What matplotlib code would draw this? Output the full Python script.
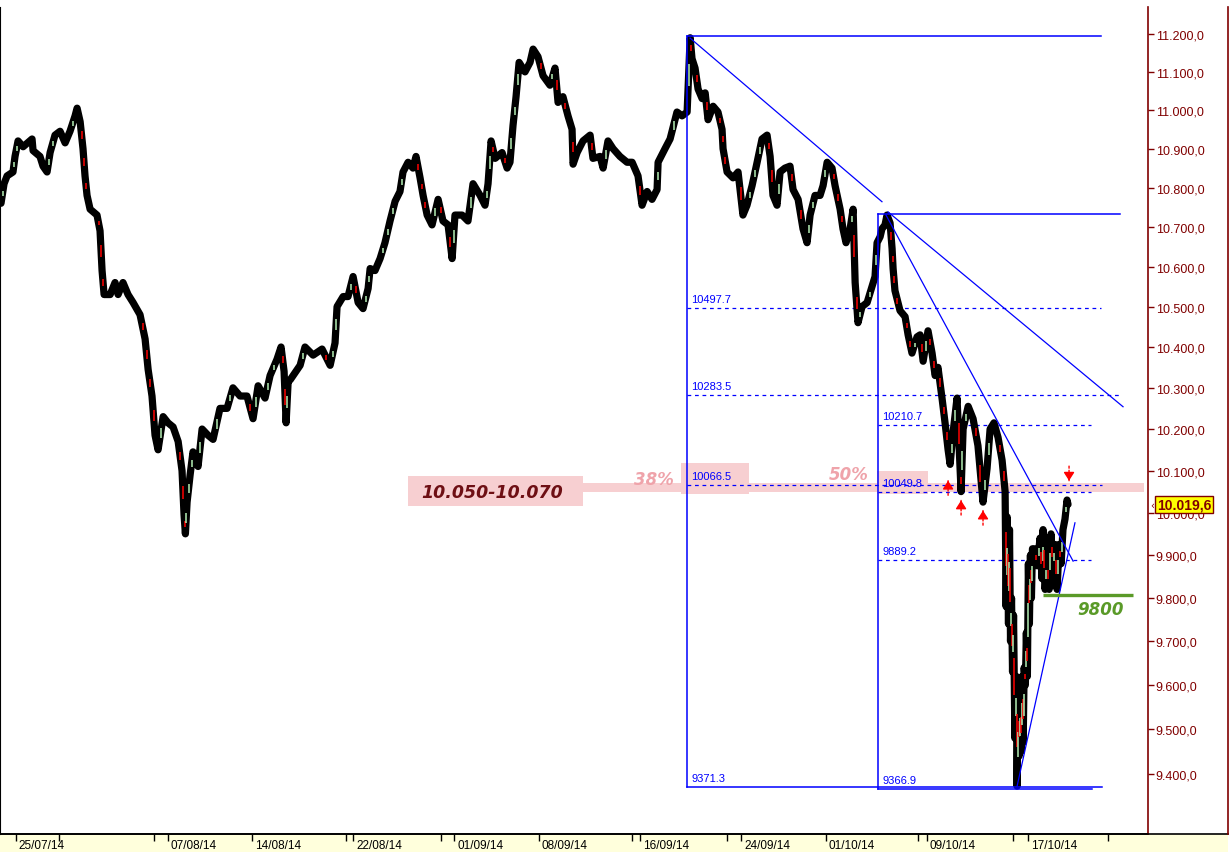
import numpy as np
import matplotlib
matplotlib.use("Agg")
import matplotlib.pyplot as plt
from matplotlib.ticker import FixedLocator, NullLocator, FuncFormatter
from matplotlib.patches import Rectangle
from matplotlib.lines import Line2D

# ---------------- data (x = trading-day index, 0 = 25/07/14) ----------------
days = [-0.88, -0.70, -0.52, -0.17, -0.05, 0.13, 0.43, 0.96, 1.02, 1.43, 1.61, 1.85, 2.03, 2.32,
        2.62, 2.92, 3.21, 3.51, 3.63, 3.81, 3.98, 4.10, 4.22, 4.40, 4.81, 4.99, 5.11, 5.23, 5.59,
        5.88, 6.06, 6.35, 6.65, 6.95, 7.36, 7.66, 7.84, 8.07, 8.25, 8.43, 8.73, 9.02, 9.32, 9.62,
        9.85, 9.97, 10.05, 10.15, 10.33, 10.50, 10.80, 11.04, 11.39, 11.69, 12.10, 12.52, 12.87, 13.29,
        13.70, 14.06, 14.36, 14.77, 15.07, 15.48, 15.72, 15.90, 16.02, 16.14, 16.27, 16.85, 17.14,
        17.62, 18.15, 18.63, 18.92, 19.04, 19.40, 19.69, 19.99, 20.29, 20.58, 20.88, 21.00, 21.29,
        21.59, 21.88, 22.18, 22.48, 22.77, 22.95, 23.25, 23.54, 23.72, 23.96, 24.14, 24.38, 24.67,
        25.03, 25.32, 25.62, 25.86, 26.03, 26.45, 26.80, 27.10, 27.52, 27.81, 27.99, 28.17, 28.41,
        28.82, 29.12, 29.29, 29.47, 29.65, 29.83, 30.18, 30.48, 30.66, 30.95, 31.25, 31.66, 31.96,
        32.14, 32.43, 32.73, 32.97, 33.03, 33.27, 33.62, 34.04, 34.21, 34.63, 34.81, 35.10, 35.40,
        35.81, 36.23, 36.53, 36.88, 37.12, 37.42, 37.71, 38.01, 38.07, 38.48, 38.78, 39.19, 39.49,
        39.79, 39.97, 40.08, 40.26, 40.44, 40.68, 40.86, 41.03, 41.33, 41.62, 41.86, 41.92, 42.16,
        42.51, 42.81, 43.10, 43.34, 43.64, 43.94, 44.23, 44.53, 44.71, 44.88, 45.12, 45.30, 45.59,
        45.89, 46.07, 46.37, 46.66, 46.90, 47.08, 47.37, 47.67, 47.85, 48.09, 48.38, 48.56, 48.86,
        49.03, 49.21, 49.45, 49.63, 49.75, 49.92, 50.16, 50.46, 50.75, 50.93, 51.05, 51.23, 51.34,
        51.52, 51.64, 51.82, 51.94, 52.00, 52.11, 52.41, 52.71, 52.89, 53.12, 53.42, 53.60, 53.78,
        54.07, 54.31, 54.49, 54.66, 54.90, 55.08, 55.26, 55.38, 55.55, 55.79, 55.97, 56.03, 56.15,
        56.45, 56.74, 57.03, 57.33, 57.57, 57.75, 57.98, 58.22, 58.46, 58.64,
        58.70, 58.76, 58.84, 58.90, 58.96, 59.02, 59.08, 59.14, 59.22, 59.30, 59.35, 59.41, 59.47,
        59.53, 59.59, 59.65, 59.71, 59.77, 59.84, 59.90, 59.96, 60.02, 60.08, 60.14, 60.20, 60.26,
        60.36, 60.54, 60.71, 60.83, 60.89, 61.01, 61.13, 61.25, 61.36, 61.48, 61.60, 61.72,
        61.84, 61.96, 62.07, 62.19, 62.31, 62.37]
prices = [10760, 10810, 10830, 10840, 10880, 10920, 10905, 10925, 10895, 10880, 10855, 10840, 10890, 10935,
          10945, 10915, 10945, 10985, 11005, 10970, 10900, 10830, 10780, 10745, 10730, 10690, 10590, 10530, 10530,
          10560, 10530, 10560, 10530, 10510, 10480, 10420, 10345, 10280, 10185, 10150, 10230, 10215, 10205, 10170,
          10100, 9995, 9950, 10025, 10090, 10145, 10110, 10200, 10185, 10175, 10250, 10250, 10300, 10280,
          10280, 10225, 10305, 10275, 10330, 10370, 10400, 10340, 10215, 10315, 10320, 10355, 10400,
          10380, 10395, 10355, 10410, 10500, 10525, 10525, 10575, 10510, 10495, 10545, 10595, 10590,
          10620, 10660, 10715, 10765, 10790, 10840, 10865, 10850, 10880, 10825, 10780, 10730, 10705,
          10770, 10715, 10705, 10620, 10730, 10730, 10715, 10810, 10780, 10755, 10810, 10920, 10875,
          10890, 10850, 10865, 10960, 11035, 11125, 11100, 11125, 11160, 11140, 11090, 11065, 11110,
          11020, 11035, 10985, 10950, 10860, 10890, 10920, 10935, 10875, 10880, 10850, 10920, 10900,
          10880, 10865, 10865, 10830, 10755, 10790, 10770, 10795, 10865, 10900, 10925, 10995, 10985,
          10995, 11190, 11135, 11110, 11055, 11030, 11045, 10975, 11010, 10995, 10950, 10900, 10840,
          10825, 10840, 10730, 10755, 10805, 10865, 10925, 10935, 10880, 10780, 10755, 10840, 10850,
          10855, 10795, 10770, 10695, 10660, 10730, 10780, 10780, 10805, 10865, 10850, 10805, 10745,
          10695, 10660, 10695, 10745, 10560, 10460, 10500, 10510, 10550, 10575, 10660, 10675, 10695,
          10705, 10730, 10710, 10645, 10595, 10540, 10490, 10475, 10430, 10385, 10425, 10430, 10365,
          10440, 10385, 10330, 10350, 10275, 10215, 10150, 10115, 10190, 10275, 10105, 10050, 10200,
          10255, 10225, 10160, 10025, 10105, 10200, 10215, 10180, 10125, 10050,
          9780, 9990, 9740, 9960, 9700, 9800, 9630, 9760, 9480, 9620, 9373, 9560, 9440,
          9570, 9450, 9620, 9470, 9640, 9600, 9720, 9620, 9880, 9740, 9900, 9800, 9915,
          9915, 9875, 9940, 9845, 9960, 9820, 9890, 9820, 9950, 9865, 9925, 9820,
          9925, 9880, 9960, 9985, 10030, 10019.6]
last_price = 10019.6

date_ticks = [0, 9, 14, 20, 26, 31, 37, 43, 48, 54, 60]
date_labels = ["25/07/14", "07/08/14", "14/08/14", "22/08/14", "01/09/14", "08/09/14",
               "16/09/14", "24/09/14", "01/10/14", "09/10/14", "17/10/14"]
minor_date_ticks = [2.56, 8.19, 19.57, 25.2, 36.53, 42.16, 53.48, 59.11, 64.74]
price_ticks = [9400, 9500, 9600, 9700, 9800, 9900, 10000, 10100, 10200, 10300, 10400,
               10500, 10600, 10700, 10800, 10900, 11000, 11100, 11200]

# Fibonacci retracement 1 (high 16/09 -> low)
fib1_day = 39.79
fib1_high = 11194.0
fib1_levels = [10497.7, 10283.5, 10066.5]
fib1_low = 9371.3
# Fibonacci retracement 2
fib2_day = 51.11
fib2_high = 10732.7
fib2_levels = [10210.7, 10049.8, 9889.2]
fib2_low = 9366.9

# trend lines (day, value) pairs
trend_lines = [((39.97, 11189), (51.34, 10764)),
               ((51.70, 10738), (65.63, 10254)),
               ((51.58, 10730), (62.67, 9886)),
               ((59.35, 9373), (62.78, 9976))]

zone = (10050, 10070)
support_9800 = 9808
up_arrow_days = [55.26, 56.03, 57.33]
up_arrow_vals = [10076, 10029, 10005]
down_arrow_day = 62.43
down_arrow_val = 10076

# ---------------- figure ----------------
W, H = 1230, 853
fig = plt.figure(figsize=(W / 100, H / 100), dpi=100)
fig.patch.set_facecolor("white")
ax_left, ax_right, ax_top, ax_bot = 0, 1148, 8, 835
ax = fig.add_axes([ax_left / W, (H - ax_bot) / H, (ax_right - ax_left) / W, (ax_bot - ax_top) / H])
ax.set_zorder(1)

# bottom yellow band and frame lines (figure level, behind the axes)
fig.patches.append(Rectangle((0, 0), 1228 / W, (H - ax_bot) / H, transform=fig.transFigure,
                             facecolor="#FFFFDC", edgecolor="none", zorder=-5))
fig.lines.append(Line2D([0, 1228 / W], [(H - ax_bot) / H] * 2, transform=fig.transFigure,
                        color="black", lw=1.2, zorder=-4))
fig.lines.append(Line2D([1228 / W] * 2, [(H - ax_bot) / H, (H - ax_top) / H], transform=fig.transFigure,
                        color="#800000", lw=1.2, zorder=-4))

ax.set_yscale("log")
ax.set_xlim(-0.94, 67.11)
ax.set_ylim(9267.5, 11271.8)
ax.patch.set_alpha(0.0)

DR = "#800000"
BLUE = "#0000FF"
PINK = "#F7CFD1"

# y axis on right
ax.yaxis.tick_right()
ax.yaxis.set_major_locator(FixedLocator(price_ticks))
ax.yaxis.set_minor_locator(NullLocator())
ax.yaxis.set_major_formatter(FuncFormatter(
    lambda v, p: f"{v:,.1f}".replace(",", "X").replace(".", ",").replace("X", ".")))
ax.tick_params(axis="y", direction="out", length=4, width=1, colors=DR, labelsize=9, pad=1.5)
for lab in ax.get_yticklabels():
    lab.set_fontfamily("Liberation Sans")

# x axis
ax.xaxis.set_major_locator(FixedLocator(date_ticks))
ax.xaxis.set_minor_locator(FixedLocator(minor_date_ticks))
ax.set_xticklabels([])
ax.tick_params(axis="x", which="both", direction="out", length=5, width=1, colors="black")
for d, lab in zip(date_ticks, date_labels):
    ax.annotate(lab, xy=(d, 0), xycoords=("data", "axes fraction"), xytext=(2, -3.5),
                textcoords="offset points", ha="left", va="top", fontsize=8.5,
                family="Liberation Sans", color="black", annotation_clip=False, zorder=10)

ax.spines["top"].set_visible(False)
ax.spines["right"].set_color(DR)
ax.spines["right"].set_linewidth(1.2)
ax.spines["left"].set_color("black")
ax.spines["bottom"].set_color("black")
ax.spines["bottom"].set_linewidth(1.2)

# ---------------- pink zone annotations ----------------
ax.add_patch(Rectangle((33.62, zone[0]), 66.9 - 33.62, zone[1] - zone[0],
                       facecolor=PINK, edgecolor="none", zorder=1, clip_on=False))
ax.add_patch(Rectangle((23.25, 10017), 33.62 - 23.25, 10088 - 10017,
                       facecolor=PINK, edgecolor="none", zorder=1))
ax.add_patch(Rectangle((39.43, 10045), 43.46 - 39.43, 10118 - 10045,
                       facecolor=PINK, edgecolor="none", zorder=1))
ax.add_patch(Rectangle((51.05, 10045), 54.07 - 51.05, 10100 - 10045,
                       facecolor=PINK, edgecolor="none", zorder=1))
ax.text(28.25, 10050, "10.050-10.070", ha="center", va="center", fontsize=12.5,
        fontweight="bold", fontstyle="italic", family="DejaVu Sans", color="#6E0F14", zorder=5)
ax.text(37.83, 10081, "38%", ha="center", va="center", fontsize=12, fontweight="bold",
        fontstyle="italic", family="DejaVu Sans", color="#EFA3AA", zorder=5)
ax.text(49.39, 10093, "50%", ha="center", va="center", fontsize=12, fontweight="bold",
        fontstyle="italic", family="DejaVu Sans", color="#EFA3AA", zorder=5)

# ---------------- Fibonacci boxes ----------------
def fib_label(day, val, txt):
    ax.annotate(txt, xy=(day, val), xytext=(3, 2.5), textcoords="offset points",
                ha="left", va="bottom", fontsize=8, family="Liberation Sans", color=BLUE, zorder=6)

dash = (0, (3, 3))
# box 1
ax.plot([fib1_day, fib1_day], [fib1_low, fib1_high], color=BLUE, lw=1.1, zorder=5)
ax.plot([fib1_day, 64.33], [fib1_high, fib1_high], color=BLUE, lw=1.1, zorder=5)
ax.plot([fib1_day, 64.39], [fib1_low, fib1_low], color=BLUE, lw=1.1, zorder=5)
for lv, end in zip(fib1_levels, [64.33, 65.45, 64.39]):
    ax.plot([fib1_day, end], [lv, lv], color=BLUE, lw=0.9, ls=dash, zorder=2)
    fib_label(fib1_day, lv, f"{lv:.1f}")
fib_label(fib1_day, fib1_low, f"{fib1_low:.1f}")
# box 2
ax.plot([fib2_day, fib2_day], [fib2_low, fib2_high], color=BLUE, lw=1.1, zorder=5)
ax.plot([fib2_day, 65.45], [fib2_high, fib2_high], color=BLUE, lw=1.1, zorder=5)
ax.plot([fib2_day, 63.80], [fib2_low, fib2_low], color=BLUE, lw=1.1, zorder=5)
for lv in fib2_levels:
    ax.plot([fib2_day, 63.73], [lv, lv], color=BLUE, lw=0.9, ls=dash, zorder=2)
    fib_label(fib2_day, lv, f"{lv:.1f}")
fib_label(fib2_day, fib2_low, f"{fib2_low:.1f}")

# ---------------- price series ----------------
ax.plot(days, prices, color="black", lw=5.2, solid_joinstyle="round", solid_capstyle="round", zorder=3)
for i in range(len(days) - 1):
    v0, v1 = prices[i], prices[i + 1]
    if abs(np.log(v1 / v0)) > 0.0035:
        xm = (days[i] + days[i + 1]) / 2
        a = v0 + 0.35 * (v1 - v0)
        b = v0 + 0.65 * (v1 - v0)
        ax.plot([xm, xm], [a, b], color=("#FF0000" if v1 < v0 else "#B5F0B5"), lw=1.1,
                solid_capstyle="butt", zorder=3.5)

# ---------------- trend lines ----------------
for (p0, p1) in trend_lines:
    ax.plot([p0[0], p1[0]], [p0[1], p1[1]], color=BLUE, lw=0.9, zorder=5)

# 9800 support
ax.plot([60.89, 66.22], [support_9800, support_9800], color="#5A9A28", lw=2.4,
        solid_capstyle="butt", zorder=5)
ax.annotate("9800", xy=(64.3, support_9800), xytext=(0, -4), textcoords="offset points",
            ha="center", va="top", fontsize=12, fontweight="bold", fontstyle="italic",
            family="DejaVu Sans", color="#5A9A28", zorder=6)

# arrows
def red_arrow(day, tip, up=True):
    sgn = -1 if up else 1
    ax.annotate("", xy=(day, tip), xytext=(0, sgn * 10.5), textcoords="offset points",
                arrowprops=dict(arrowstyle="-", color="red", lw=1, ls=(0, (1.5, 1.5)),
                                shrinkA=0, shrinkB=0), zorder=6)
    ax.annotate("", xy=(day, tip), xytext=(0, sgn * 5.5), textcoords="offset points",
                arrowprops=dict(arrowstyle="-|>,head_length=0.5,head_width=0.32", color="red",
                                lw=1, shrinkA=0, shrinkB=0), zorder=6)

for d, v in zip(up_arrow_days, up_arrow_vals):
    red_arrow(d, v, True)
red_arrow(down_arrow_day, down_arrow_val, False)

# last price box
ax.annotate(f"{last_price:,.1f}".replace(",", "X").replace(".", ",").replace("X", "."),
            xy=(1, last_price), xycoords=("axes fraction", "data"), xytext=(6.5, 0),
            textcoords="offset points", ha="left", va="center", fontsize=10, fontweight="bold",
            family="Liberation Sans", color=DR, annotation_clip=False, zorder=10,
            bbox=dict(boxstyle="square,pad=0.12", facecolor="#FFFF00", edgecolor=DR, lw=1))
ax.annotate("‹", xy=(1, last_price), xycoords=("axes fraction", "data"), xytext=(1.5, 0),
            textcoords="offset points", ha="left", va="center", fontsize=7,
            family="DejaVu Sans", color=DR, annotation_clip=False, zorder=10)

fig.savefig("out.png", dpi=100, facecolor="white")
